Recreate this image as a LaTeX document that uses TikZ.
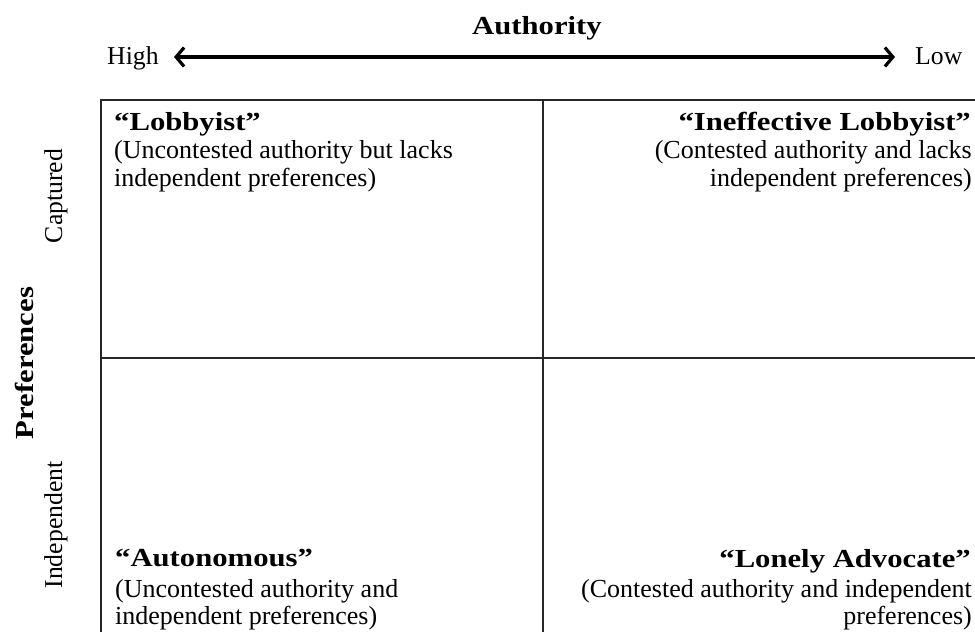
\documentclass[tikz,border=0pt]{standalone}
\usepackage{fontspec}
\setmainfont{Liberation Serif}
\newfontfamily\wideserif[FakeStretch=1.18,Ligatures=TeX]{Liberation Serif}
\usetikzlibrary{arrows.meta}
\begin{document}
\begin{tikzpicture}[x=1pt,y=-1pt,
  grid/.style={line width=1.8pt,black!85},
  ttl/.style={font=\wideserif\fontsize{26}{30}\selectfont\bfseries,inner sep=0pt},
  body/.style={font=\fontsize{26}{30}\selectfont,inner sep=0pt},
  lab/.style={font=\fontsize{25.7}{30}\selectfont,inner sep=0pt},
  barb/.tip={Straight Barb[length=8pt,width=19pt,line width=3.2pt]}]
\useasboundingbox (0,0) rectangle (975,632);
% grid
\coordinate (tl) at (101,100);
\coordinate (tr) at (976,100);
\coordinate (bl) at (101,633);
\coordinate (tm) at (543,100);
\coordinate (bm) at (543,633);
\coordinate (ml) at (101,358);
\coordinate (mr) at (976,358);
\draw[grid] (bl) -- (tl) -- (tr);
\draw[grid] (tm) -- (bm);
\draw[grid] (ml) -- (mr);
% axis
\node[ttl] (auth) at (537,28) {Authority};
\node[lab,anchor=base west] (high) at (107,64) {High};
\node[lab,anchor=base west] (low) at (915,64) {Low};
\coordinate (a1) at (174,57);
\coordinate (a2) at (895,57);
\draw[line width=3.4pt,barb-barb] (a1) -- (a2);
\node[ttl,rotate=90] (pref) at (24,363) {Preferences};
\node[lab,rotate=90,anchor=base] (capt) at (62,196) {Captured};
\node[lab,rotate=90,anchor=base] (indep) at (62,525) {Independent};
% quadrants
\node[ttl,anchor=base west] (q1t) at (114,130) {“Lobbyist”};
\node[body,anchor=base west] (q1a) at (114,158) {(Uncontested authority but lacks};
\node[body,anchor=base west] (q1b) at (114,186) {independent preferences)};
\node[ttl,anchor=base east] (q2t) at (971,130) {“Ineffective Lobbyist”};
\node[body,anchor=base east] (q2a) at (972,158) {(Contested authority and lacks};
\node[body,anchor=base east] (q2b) at (972,186) {independent preferences)};
\node[ttl,anchor=base west] (q3t) at (115,566) {“Autonomous”};
\node[body,anchor=base west] (q3a) at (115,597) {(Uncontested authority and};
\node[body,anchor=base west] (q3b) at (115,624) {independent preferences)};
\node[ttl,anchor=base east] (q4t) at (971,567) {“Lonely Advocate”};
\node[body,anchor=base east] (q4a) at (972,597) {(Contested authority and independent};
\node[body,anchor=base east] (q4b) at (972,624) {preferences)};
\end{tikzpicture}
\end{document}
